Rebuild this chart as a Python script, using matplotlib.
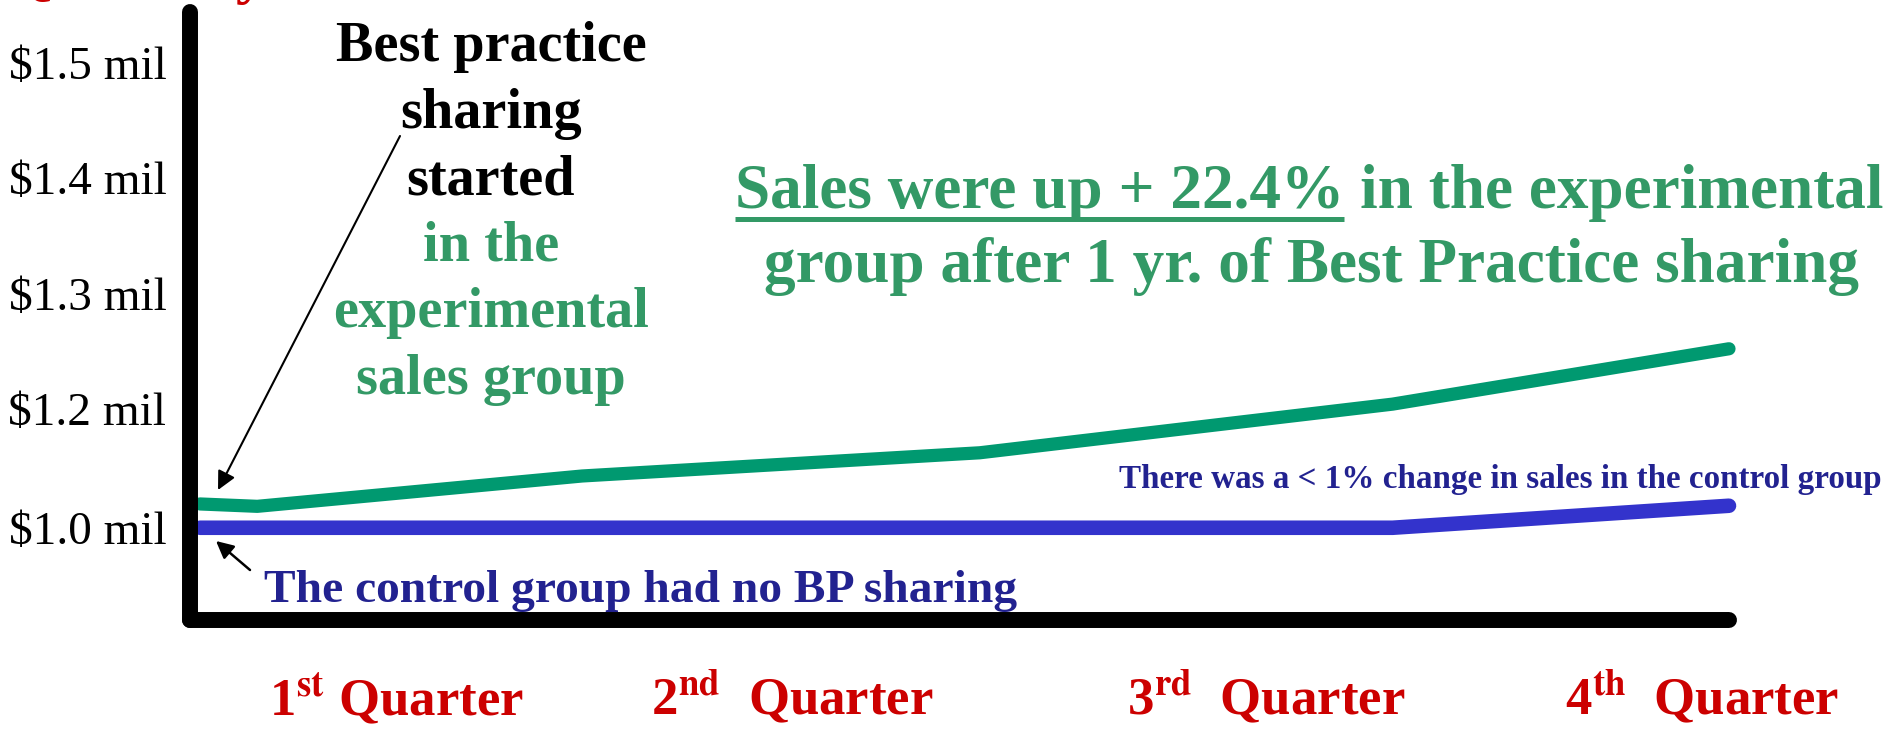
import matplotlib
matplotlib.use("Agg")
import matplotlib.pyplot as plt
import numpy as np
from matplotlib.lines import Line2D
from matplotlib.transforms import blended_transform_factory

plt.rcParams["font.family"] = ["Liberation Serif", "DejaVu Serif"]
plt.rcParams["mathtext.fontset"] = "stix"

# data (quarters elapsed, sales in $ mil)
exp_x = [0.0, 0.15, 1.0, 2.04, 3.12, 4.0]
exp_sales = [1.040, 1.036, 1.087, 1.126, 1.204, 1.252]
ctrl_x = [0.0, 3.12, 4.0]
ctrl_sales = [1.0, 1.0, 1.037]

y_ticks = [1.0, 1.2, 1.3, 1.4, 1.5]
y_tick_labels = ["$1.0 mil", "$1.2 mil", "$1.3 mil", "$1.4 mil", "$1.5 mil"]
quarter_labels = [r"1$^{\mathbf{st}}$ Quarter", r"2$^{\mathbf{nd}}$  Quarter",
                  r"3$^{\mathbf{rd}}$  Quarter", r"4$^{\mathbf{th}}$  Quarter"]
quarter_label_x = [0.513, 1.55, 2.79, 3.93]

GREEN_LINE = "#009970"
GREEN_TEXT = "#339966"
BLUE_LINE = "#3333cc"
NAVY_TEXT = "#222290"
RED_TEXT = "#cc0000"

W, H = 1899, 732

# the axis skips $1.1 mil: the 1.0-1.2 band is drawn about half height
SQUEEZE = 0.516


def fwd(y):
    y = np.asarray(y, dtype=float)
    return np.where(y >= 1.2, y, 1.2 - (1.2 - y) * SQUEEZE)


def inv(u):
    u = np.asarray(u, dtype=float)
    return np.where(u >= 1.2, u, 1.2 - (1.2 - u) / SQUEEZE)


def fy(px):
    # top-down pixel -> figure fraction
    return 1 - px / H


fig = plt.figure(figsize=(W / 100, H / 100), dpi=100)
ax = fig.add_axes([190 / W, fy(620), (1729 - 190) / W, (620 - 12) / H])
ax.set_yscale("function", functions=(fwd, inv))

ax.plot(exp_x, exp_sales, color=GREEN_LINE, lw=9.5, solid_capstyle="round",
        solid_joinstyle="round", clip_on=False, zorder=3)
ax.plot(ctrl_x, ctrl_sales, color=BLUE_LINE, lw=10.5, solid_capstyle="round",
        solid_joinstyle="round", clip_on=False, zorder=3)

ax.set_xlim(-0.026, 4.0)
ax.set_ylim(0.845, 1.544)
for spine in ax.spines.values():
    spine.set_visible(False)

# thick rounded axes
ax.plot([0, 0], [0, 1], transform=ax.transAxes, color="black", lw=11.5,
        solid_capstyle="round", clip_on=False, zorder=4)
ax.plot([0, 1], [0, 0], transform=ax.transAxes, color="black", lw=11.5,
        solid_capstyle="round", clip_on=False, zorder=4)

ax.set_yticks(y_ticks)
ax.set_yticklabels(y_tick_labels, fontsize=34)
ax.yaxis.set_minor_locator(matplotlib.ticker.NullLocator())
ax.tick_params(axis="y", length=0, pad=17)
ax.set_xticks([])

label_tf = blended_transform_factory(ax.transData, fig.transFigure)
for xq, lab in zip(quarter_label_x, quarter_labels):
    ax.text(xq, fy(715), lab, transform=label_tf, ha="center", va="baseline",
            fontsize=38, fontweight="bold", color=RED_TEXT)

# cut-off heading at the very top
fig.text(5 / W, fy(-8), "Quarterly Sales", fontsize=44, fontweight="bold",
         color=RED_TEXT, ha="left", va="baseline")

# left annotation block
note_lines = [("Best practice", "black"), ("sharing", "black"), ("started", "black"),
              ("in the", GREEN_TEXT), ("experimental", GREEN_TEXT), ("sales group", GREEN_TEXT)]
for i, (txt, col) in enumerate(note_lines):
    fig.text(491 / W, fy(61 + i * 66.6), txt, fontsize=40.5, fontweight="bold",
             color=col, ha="center", va="baseline")

# headline
HEAD_FS = 45.5
head1 = fig.text(1309 / W, fy(208), "Sales were up + 22.4% in the experimental",
                 fontsize=HEAD_FS, fontweight="bold", color=GREEN_TEXT, ha="center", va="baseline")
fig.text(1312 / W, fy(282), "group after 1 yr. of Best Practice sharing",
         fontsize=HEAD_FS, fontweight="bold", color=GREEN_TEXT, ha="center", va="baseline")

fig.text(1500 / W, fy(488), "There was a < 1% change in sales in the control group",
         fontsize=23.9, fontweight="bold", color=NAVY_TEXT, ha="center", va="baseline")
fig.text(264 / W, fy(602), "The control group had no BP sharing",
         fontsize=34.2, fontweight="bold", color=NAVY_TEXT, ha="left", va="baseline")

# arrows
ax.annotate("", xy=(218 / W, fy(490)), xytext=(400 / W, fy(136)),
            xycoords="figure fraction", textcoords="figure fraction",
            arrowprops=dict(arrowstyle="-|>", color="black", lw=1.5, mutation_scale=28,
                            shrinkA=0, shrinkB=0))
ax.annotate("", xy=(216 / W, fy(541)), xytext=(250 / W, fy(570)),
            xycoords="figure fraction", textcoords="figure fraction",
            arrowprops=dict(arrowstyle="-|>", color="black", lw=1.8, mutation_scale=26,
                            shrinkA=0, shrinkB=0))

# underline under the first part of the headline
fig.canvas.draw()
renderer = fig.canvas.get_renderer()
bb = head1.get_window_extent(renderer)
probe = fig.text(0, 0, "Sales were up + 22.4%", fontsize=HEAD_FS, fontweight="bold")
pw = probe.get_window_extent(renderer).width
probe.remove()
uy = fy(219)
fig.add_artist(Line2D([bb.x0 / W, (bb.x0 + pw) / W], [uy, uy], transform=fig.transFigure,
                      color=GREEN_TEXT, lw=3.6, solid_capstyle="butt"))

fig.savefig("out.png", dpi=100)
